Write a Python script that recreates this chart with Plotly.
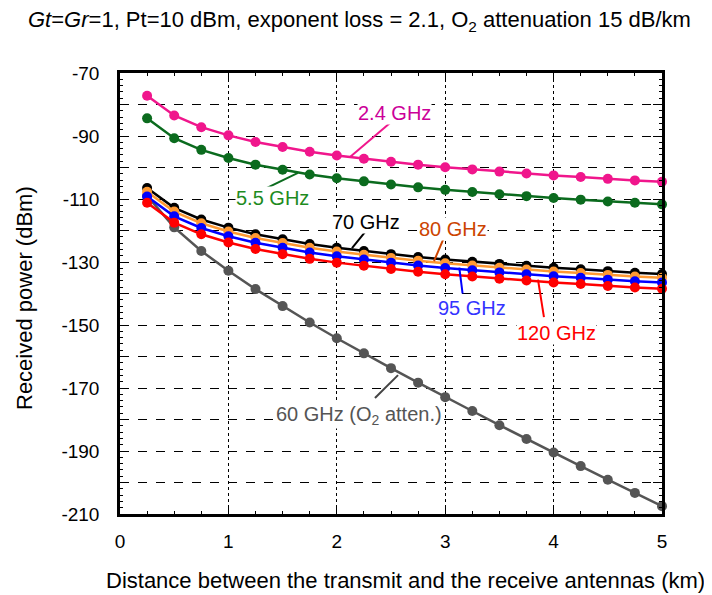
import plotly.graph_objects as go

distance_km = [0.25, 0.5, 0.75, 1.0, 1.25, 1.5, 1.75, 2.0, 2.25, 2.5,
               2.75, 3.0, 3.25, 3.5, 3.75, 4.0, 4.25, 4.5, 4.75, 5.0]

p_2_4 = [-77.2, -83.5, -87.2, -89.8, -91.9, -93.5, -95.0, -96.2, -97.2, -98.2,
         -99.1, -99.9, -100.6, -101.3, -101.9, -102.5, -103.0, -103.6, -104.1, -104.5]
p_5_5 = [-84.4, -90.7, -94.4, -97.0, -99.1, -100.7, -102.2, -103.4, -104.4, -105.4,
         -106.3, -107.1, -107.8, -108.5, -109.1, -109.7, -110.2, -110.8, -111.2, -111.7]
p_60 = [-109.0, -119.0, -126.5, -132.8, -138.6, -144.0, -149.2, -154.2, -159.0, -163.7,
        -168.3, -172.9, -177.3, -181.8, -186.2, -190.5, -194.8, -199.1, -203.3, -207.5]
p_70 = [-106.5, -112.8, -116.5, -119.1, -121.2, -122.8, -124.3, -125.5, -126.5, -127.5,
        -128.4, -129.2, -129.9, -130.6, -131.2, -131.8, -132.3, -132.9, -133.4, -133.8]
p_80 = [-107.7, -114.0, -117.7, -120.3, -122.4, -124.0, -125.5, -126.7, -127.7, -128.7,
        -129.6, -130.4, -131.1, -131.8, -132.4, -133.0, -133.5, -134.1, -134.6, -135.0]
p_95 = [-109.2, -115.5, -119.2, -121.8, -123.9, -125.5, -127.0, -128.2, -129.2, -130.2,
        -131.1, -131.9, -132.6, -133.3, -133.9, -134.5, -135.0, -135.6, -136.1, -136.5]
p_120 = [-111.2, -117.5, -121.2, -123.8, -125.9, -127.5, -129.0, -130.2, -131.2, -132.2,
         -133.1, -133.9, -134.6, -135.3, -135.9, -136.5, -137.0, -137.6, -138.1, -138.5]

y_tick_vals = [-70, -80, -90, -100, -110, -120, -130, -140, -150, -160, -170, -180, -190, -200, -210]
y_tick_text = ["-70", "", "-90", "", "-110", "", "-130", "", "-150", "", "-170", "", "-190", "", "-210"]
x_tick_vals = [0, 1, 2, 3, 4, 5]
x_tick_text = ["0", "1", "2", "3", "4", "5"]

FONT = "Liberation Sans, Arial, sans-serif"

series = [
    ("60 GHz", p_60, "#555555", "#555555"),
    ("70 GHz", p_70, "#000000", "#000000"),
    ("80 GHz", p_80, "#FF9933", "#FF9933"),
    ("95 GHz", p_95, "#0000FF", "#0000FF"),
    ("120 GHz", p_120, "#FF0000", "#FF0000"),
    ("5.5 GHz", p_5_5, "#0B6B1E", "#0B6B1E"),
    ("2.4 GHz", p_2_4, "#F0168C", "#F0168C"),
]

fig = go.Figure()
for name, vals, lc, mc in series:
    fig.add_trace(go.Scatter(
        x=distance_km, y=vals, mode="lines+markers", name=name,
        line=dict(color=lc, width=2.5),
        marker=dict(color=mc, size=10),
        cliponaxis=False, showlegend=False,
    ))

# labels (text, x, y, colour)
labels = [
    ("2.4 GHz", 2.532, -82.7, "#CC0099"),
    ("5.5 GHz", 1.411, -109.7, "#1E8B1E"),
    ("70 GHz", 2.269, -117.3, "#000000"),
    ("80 GHz", 3.072, -119.5, "#CC4400"),
    ("95 GHz", 3.247, -144.6, "#3333FF"),
    ("120 GHz", 4.031, -152.5, "#FF0000"),
    ("60 GHz (O<sub>2</sub> atten.)", 2.205, -178.6, "#555555"),
]
for t, x, y, c in labels:
    fig.add_annotation(x=x, y=y, xref="x", yref="y", text=t, showarrow=False,
                       font=dict(family=FONT, size=20, color=c),
                       bgcolor="white", borderpad=0)

# leader lines (x0, y0, x1, y1, colour)
leaders = [
    (2.491, -85.9, 2.122, -96.7, "#F0168C"),
    (1.356, -106.5, 1.642, -101.7, "#0B6B1E"),
    (2.260, -120.5, 2.140, -125.6, "#000000"),
    (2.980, -123.0, 2.897, -129.7, "#CC4400"),
    (3.130, -131.8, 3.160, -140.0, "#0000FF"),
    (3.856, -135.6, 3.911, -147.5, "#FF0000"),
    (2.352, -173.2, 2.565, -165.9, "#444444"),
]
for x0, y0, x1, y1, c in leaders:
    fig.add_shape(type="line", x0=x0, y0=y0, x1=x1, y1=y1, xref="x", yref="y",
                  line=dict(color=c, width=2))

fig.add_annotation(
    text="<i>Gt</i>=<i>Gr</i>=1, Pt=10 dBm, exponent loss = 2.1, O<sub>2</sub> attenuation 15 dB/km",
    xref="paper", yref="paper", x=(359 - 120) / 542, y=(514 - 21) / 441,
    xanchor="center", yanchor="middle", showarrow=False,
    font=dict(family=FONT, size=22, color="#000000"))
fig.add_annotation(
    text="Distance between the transmit and the receive antennas (km)",
    xref="paper", yref="paper", x=(405 - 120) / 542, y=(514 - 580) / 441,
    xanchor="center", yanchor="middle", showarrow=False,
    font=dict(family=FONT, size=22, color="#000000"))
fig.add_annotation(
    text="Received power (dBm)", textangle=-90,
    xref="paper", yref="paper", x=(24 - 120) / 542, y=(514 - 298) / 441,
    xanchor="center", yanchor="middle", showarrow=False,
    font=dict(family=FONT, size=22, color="#000000"))

fig.update_xaxes(
    range=[0, 5], tickvals=x_tick_vals, ticktext=x_tick_text,
    showgrid=True, gridcolor="#000000", gridwidth=1, griddash="dot",
    showline=True, linecolor="#000000", linewidth=2.5, mirror="ticks",
    ticks="inside", ticklen=6, tickcolor="#000000",
    tickfont=dict(family=FONT, size=19, color="#000000"),
    ticklabelstandoff=8, zeroline=False, automargin=False,
    minor=dict(dtick=0.25, ticks="inside", ticklen=3, tickcolor="#000000", showgrid=False),
)
fig.update_yaxes(
    range=[-210, -70], tickvals=y_tick_vals, ticktext=y_tick_text,
    showgrid=True, gridcolor="#000000", gridwidth=1, griddash="dash",
    showline=True, linecolor="#000000", linewidth=2.5, mirror="ticks",
    ticks="inside", ticklen=9, tickcolor="#000000",
    tickfont=dict(family=FONT, size=19, color="#000000"),
    ticklabelstandoff=14, zeroline=False, automargin=False,
    minor=dict(dtick=2, ticks="inside", ticklen=3, tickcolor="#000000", showgrid=False),
)

# page body adds an 8px offset, so the figure is sized/margined to compensate
fig.update_layout(
    width=704, height=587,
    margin=dict(l=112, r=50, t=65, b=81),
    paper_bgcolor="white", plot_bgcolor="white",
    font=dict(family=FONT),
)

fig.write_html("out.html")
